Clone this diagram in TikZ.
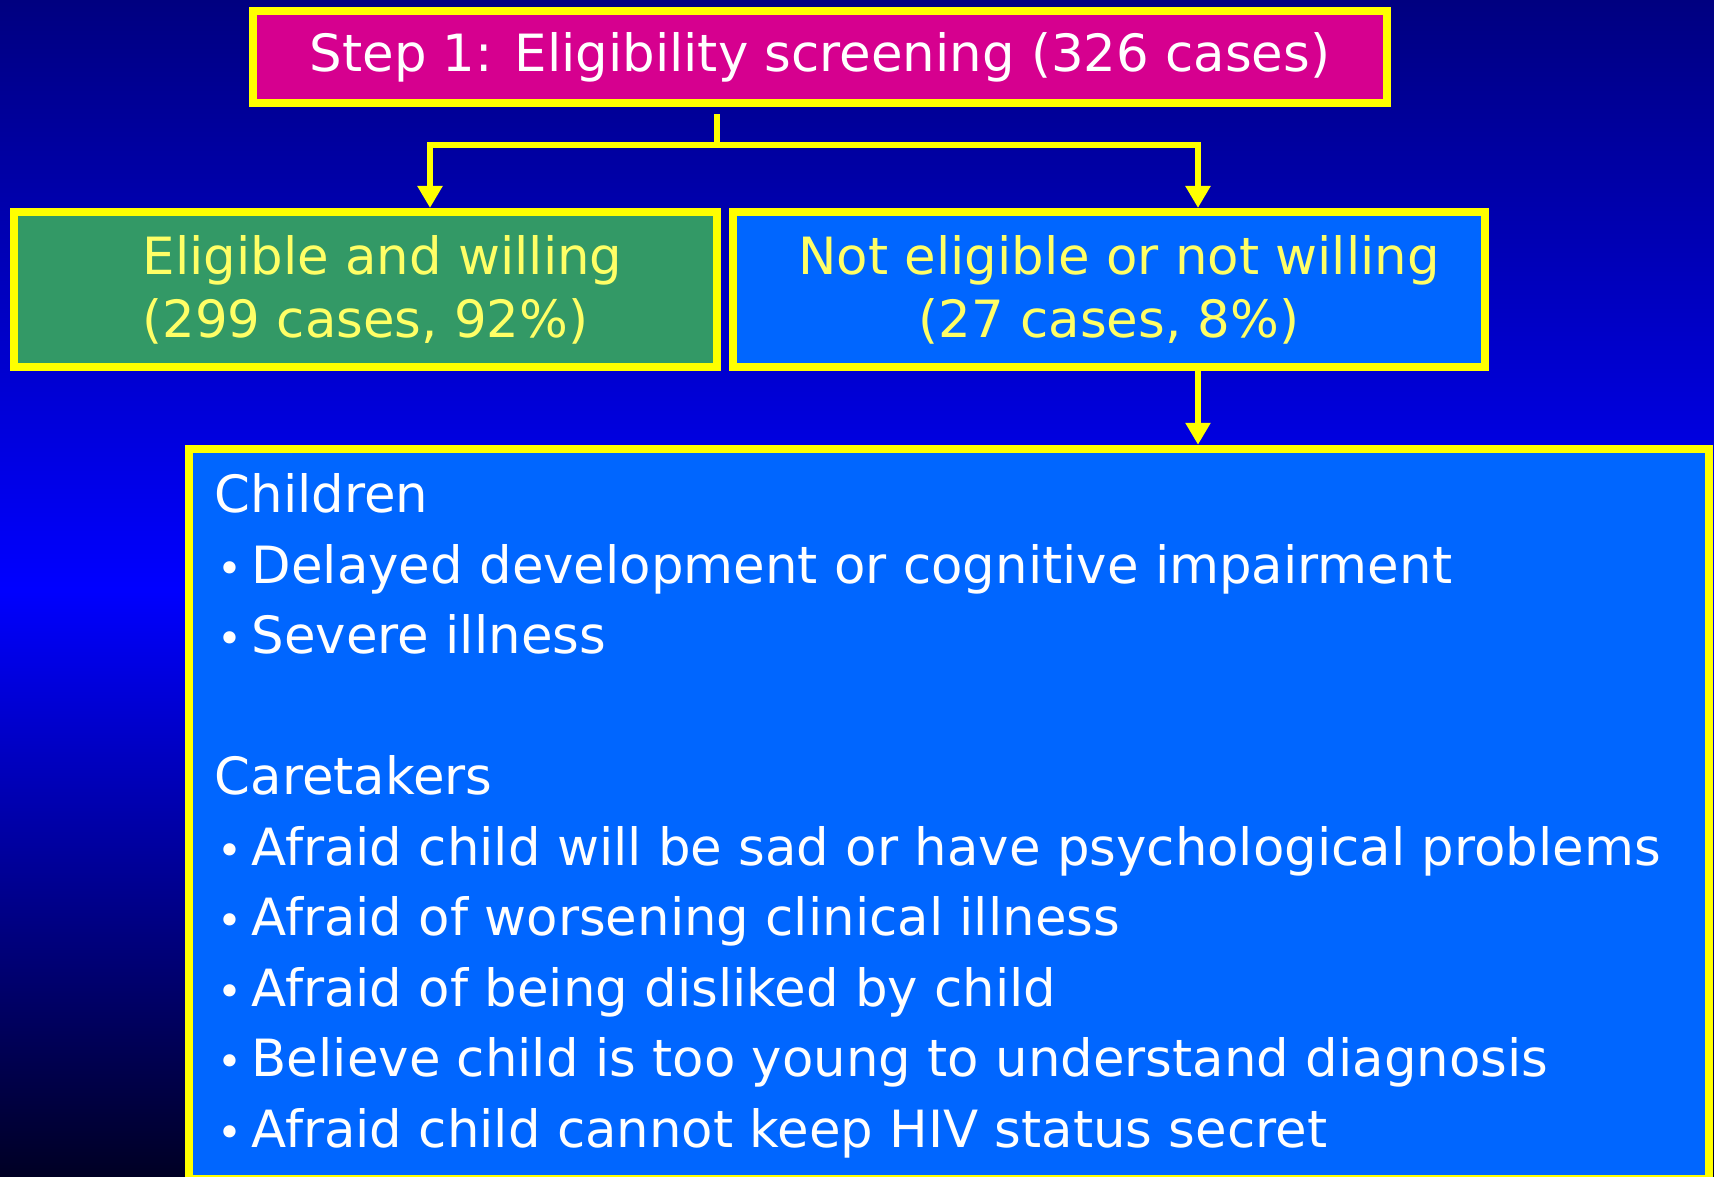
\documentclass[tikz,border=0pt]{standalone}
\usepackage{fontspec}
\setmainfont{DejaVu Sans}
\usetikzlibrary{arrows.meta, positioning}
\definecolor{slideyellow}{RGB}{255,255,0}
\definecolor{paleyellow}{RGB}{255,255,102}
\definecolor{screenpink}{RGB}{214,0,143}
\definecolor{okgreen}{RGB}{51,153,102}
\definecolor{boxblue}{RGB}{0,102,255}
\definecolor{bgnavy}{RGB}{0,0,128}
\definecolor{bgblue}{RGB}{0,0,255}
\definecolor{bgdark}{RGB}{0,0,36}

\begin{document}
\begin{tikzpicture}[x=0.01cm, y=-0.01cm,
  box/.style={rectangle, draw=slideyellow, line width=0.08cm, inner sep=0pt,
    align=center, font=\fontsize{14.6pt}{17.9pt}\selectfont},
  wire/.style={draw=slideyellow, line width=0.065cm},
  tip/.style={-{Triangle[length=0.22cm, width=0.24cm]}},
  line/.style={text=white, inner sep=0pt, anchor=base west,
    font=\fontsize{14.6pt}{17.9pt}\selectfont},
  dot/.style={text=white, inner sep=0pt, anchor=base,
    font=\fontsize{12pt}{12pt}\selectfont}]
  \clip (0,0) rectangle (1714,1177);
  \shade[top color=bgnavy, bottom color=bgdark, middle color=bgblue]
    (0,0) rectangle (1714,1177);

  \node[box, fill=screenpink, text=white, minimum width=11.34cm,
    minimum height=0.92cm] (screen) at (820,57)
    {Step 1: Eligibility screening (326 cases)};
  \node[box, fill=okgreen, text=paleyellow, minimum width=7.03cm,
    minimum height=1.55cm] (yes) at (365.5,289.5)
    {\hspace*{0.34cm}Eligible and willing\\(299 cases, 92\%)};
  \node[box, fill=boxblue, text=paleyellow, minimum width=7.52cm,
    minimum height=1.55cm] (no) at (1109,289.5)
    {\hspace*{0.2cm}Not eligible or not willing\\(27 cases, 8\%)};
  \node[box, fill=boxblue, minimum width=15.2cm,
    minimum height=7.3cm] (why) at (949,814) {};

  \node[line] (kids) at (214,513) {Children};
  \foreach \t [count=\i] in {Delayed development or cognitive impairment,
    Severe illness}
  {
    \node[dot] (kb\i) at (230,513+70.5*\i) {•};
    \node[line] (k\i) at (251,513+70.5*\i) {\t};
  }
  \node[line] (carers) at (214,795) {Caretakers};
  \foreach \t [count=\i] in {Afraid child will be sad or have psychological problems,
    Afraid of worsening clinical illness,
    Afraid of being disliked by child,
    Believe child is too young to understand diagnosis,
    Afraid child cannot keep HIV status secret}
  {
    \node[dot] (cb\i) at (230,795+70.5*\i) {•};
    \node[line] (c\i) at (251,795+70.5*\i) {\t};
  }

  \coordinate (fork) at (717,145);
  \coordinate (forkl) at (430,145);
  \coordinate (forkr) at (1198,145);
  \draw[wire] (fork |- screen.south) ++(0,7) -- (fork);
  \draw[wire, tip] (fork) -- (forkl) -- (forkl |- yes.north);
  \draw[wire, tip] (fork) -- (forkr) -- (forkr |- no.north);
  \draw[wire, tip] (forkr |- no.south) -- (forkr |- why.north);
\end{tikzpicture}
\end{document}
